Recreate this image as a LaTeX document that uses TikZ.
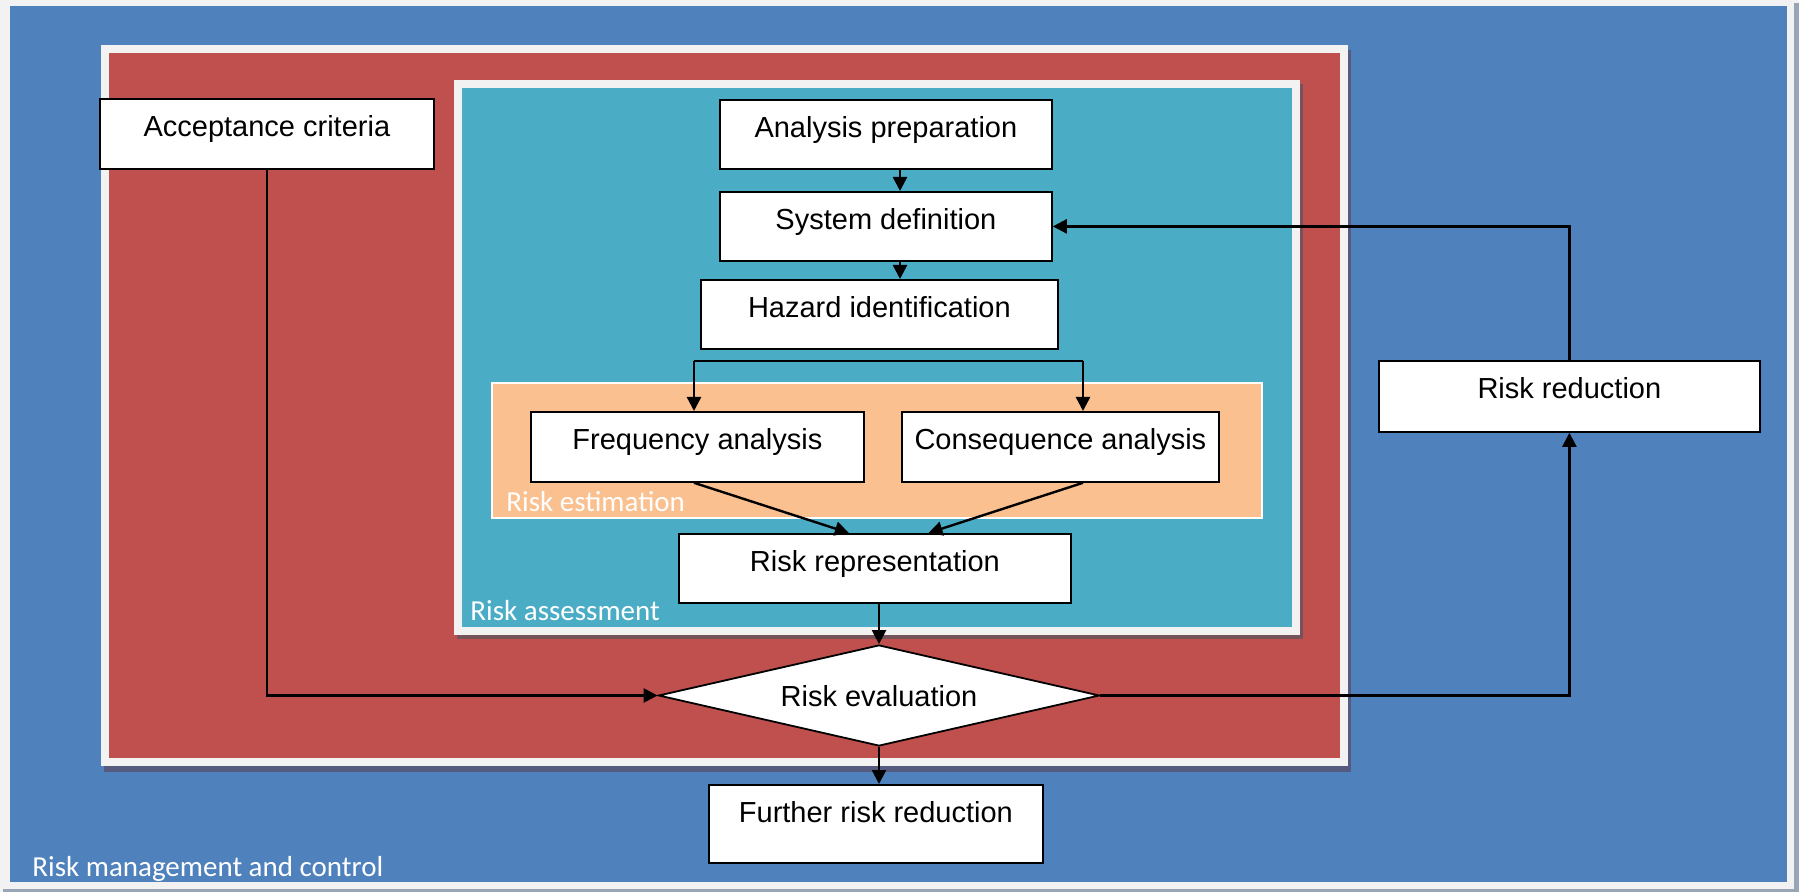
\documentclass[tikz,border=0pt]{standalone}
\usepackage{fontspec}
\newfontfamily\boxfont{Liberation Sans}
\newfontfamily\tagfont{Carlito}
\usetikzlibrary{arrows.meta,shapes.geometric,calc}

\definecolor{framegray}{HTML}{F2F2F2}
\definecolor{mgmtblue}{HTML}{4F81BD}
\definecolor{acceptred}{HTML}{C0504D}
\definecolor{assessteal}{HTML}{4BACC6}
\definecolor{estpeach}{HTML}{FAC090}
\definecolor{edgeshade}{HTML}{98A5B6}
\definecolor{shadeblue}{HTML}{565A7E}
\definecolor{shadered}{HTML}{76525A}

\begin{document}
\begin{tikzpicture}[x=0.5pt,y=-0.5pt,
  stepbox/.style={draw=black, line width=0.9pt, fill=white, anchor=north west,
    inner sep=0pt, text height=19pt, text depth=#1,
    font=\boxfont\fontsize{14.5pt}{17pt}\selectfont},
  stepbox/.default=16pt,
  tag/.style={anchor=base west, inner sep=0pt, text=white,
    font=\tagfont\fontsize{14.5pt}{17pt}\selectfont},
  arr/.style={line width=1.2pt, -{Triangle[length=7pt,width=7pt]}},
  link/.style={line width=1.2pt}
]
\useasboundingbox (0,0) rectangle (1799,892);

% outer frame: risk management and control
\fill[framegray] (0,0) rectangle (1799,892);
\fill[edgeshade] (1794,3) rectangle (1799,892);
\fill[edgeshade] (3,889) rectangle (1799,892);
\fill[mgmtblue] (10,6) rectangle (1787,882);

% red container with its shadow
\fill[shadeblue] (104,50) rectangle (1351,772);
\fill[framegray] (101,45) rectangle (1348,766);
\fill[acceptred] (109,53) rectangle (1340,758);

% risk assessment container
\fill[shadered] (457,84) rectangle (1303,639);
\fill[framegray] (454,80) rectangle (1300,635);
\fill[assessteal] (462,88) rectangle (1292,627);

% risk estimation band
\filldraw[fill=estpeach, draw=white, line width=0.6pt] (492,383) rectangle (1262,518);

% container captions
\node[tag] (lblmgmt) at (32,876) {Risk management and control};
\node[tag] (lblassess) at (470,621) {Risk assessment};
\node[tag] (lblest) at (506,512) {Risk estimation};

% process steps
\node[stepbox, minimum width=167pt] (accept) at (99,98) {Acceptance criteria};
\node[stepbox=15.5pt, minimum width=166pt] (prep) at (719,99) {Analysis preparation};
\node[stepbox=15.5pt, minimum width=166pt] (sysdef) at (719,191) {System definition};
\node[stepbox=15.5pt, minimum width=178.5pt] (hazard) at (700,279) {Hazard identification};
\node[stepbox, minimum width=166.5pt] (freq) at (530,411) {Frequency analysis};
\node[stepbox, minimum width=158.5pt] (cons) at (901,411) {Consequence analysis};
\node[stepbox=15.5pt, minimum width=196pt] (riskrep) at (678,533) {Risk representation};
\node[stepbox=20pt, minimum width=167pt] (further) at (708,784) {Further risk reduction};
\node[stepbox=16.5pt, minimum width=190.5pt] (riskred) at (1378,360) {Risk reduction};

\node[diamond, draw=black, line width=0.9pt, fill=white, aspect=4.37,
  minimum width=220.5pt, minimum height=50.5pt, inner sep=0pt,
  text height=11pt, text depth=0pt,
  font=\boxfont\fontsize{14.5pt}{17pt}\selectfont] (eval) at (879,695.5) {Risk evaluation};

% routing points
\coordinate (colA) at (900,0);
\coordinate (splitL) at (694,361);
\coordinate (splitR) at (1083,361);

% connectors
\draw[arr] (prep.south -| colA) -- (sysdef.north -| colA);
\draw[arr] (sysdef.south -| colA) -- (hazard.north -| colA);
\draw[link] (splitL) -- (splitR);
\draw[arr] (splitL) -- (freq.north -| splitL);
\draw[arr] (splitR) -- (cons.north -| splitR);
\draw[arr] (freq.south -| splitL) -- ($(riskrep.north west)!0.434!(riskrep.north east)$);
\draw[arr] (cons.south -| splitR) -- ($(riskrep.north west)!0.636!(riskrep.north east)$);
\draw[arr] (riskrep.south -| eval.north) -- (eval.north);
\draw[arr] (eval.south) -- (further.north -| eval.south);
\draw[arr] (accept.south) |- (eval.west);
\draw[arr] (eval.east) -| (riskred.south);
\draw[arr] (riskred.north) |- (sysdef.east);
\end{tikzpicture}
\end{document}
